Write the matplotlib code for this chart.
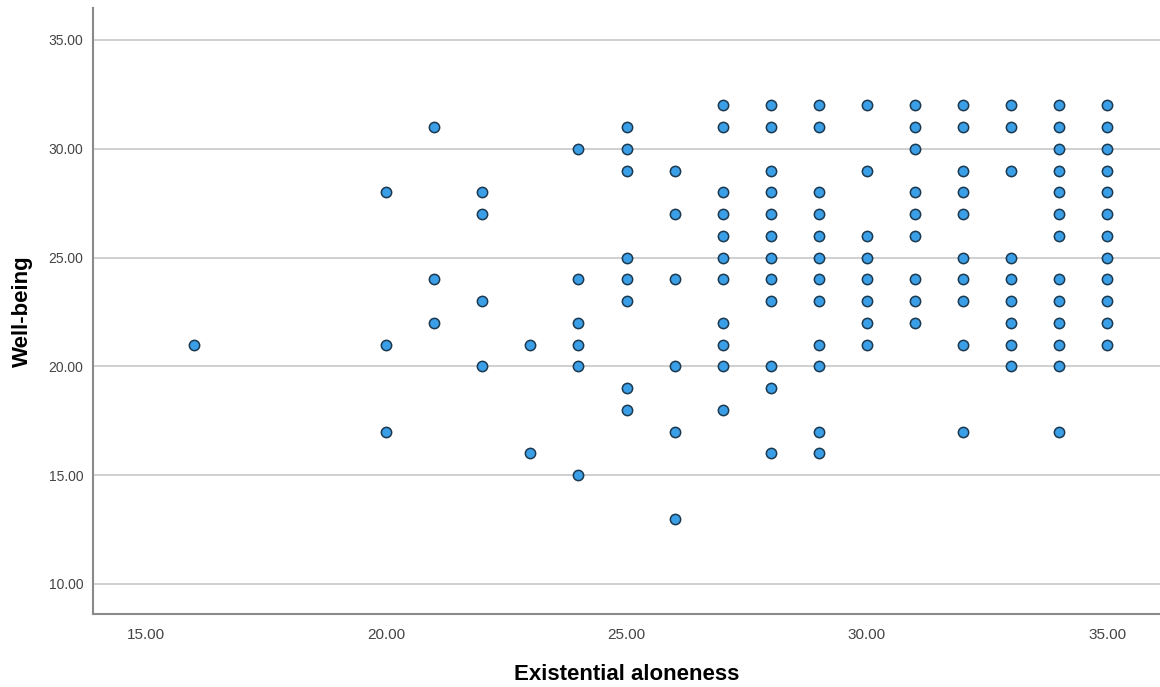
import matplotlib

matplotlib.use("Agg")
import matplotlib.pyplot as plt
from matplotlib import font_manager

# Well-being values observed at each Existential aloneness score
aloneness = [16, 20, 21, 22, 23, 24, 25, 26, 27, 28, 29, 30, 31, 32, 33, 34, 35]
wellbeing = [
    [21],
    [28, 21, 17],
    [31, 24, 22],
    [28, 27, 23, 20],
    [21, 16],
    [30, 24, 22, 21, 20, 15],
    [31, 30, 29, 25, 24, 23, 19, 18],
    [29, 27, 24, 20, 17, 13],
    [32, 31, 28, 27, 26, 25, 24, 22, 21, 20, 18],
    [32, 31, 29, 28, 27, 26, 25, 24, 23, 20, 19, 16],
    [32, 31, 28, 27, 26, 25, 24, 23, 21, 20, 17, 16],
    [32, 29, 26, 25, 24, 23, 22, 21],
    [32, 31, 30, 28, 27, 26, 24, 23, 22],
    [32, 31, 29, 28, 27, 25, 24, 23, 21, 17],
    [32, 31, 29, 25, 24, 23, 22, 21, 20],
    [32, 31, 30, 29, 28, 27, 26, 24, 23, 22, 21, 20, 17],
    [32, 31, 30, 29, 28, 27, 26, 25, 24, 23, 22, 21],
]
x_ticks = [15, 20, 25, 30, 35]
y_ticks = [10, 15, 20, 25, 30, 35]

xs = [x for x, ys in zip(aloneness, wellbeing) for _ in ys]
ys = [y for col in wellbeing for y in col]

installed = {f.name for f in font_manager.fontManager.ttflist}
narrow = "Liberation Sans Narrow" if "Liberation Sans Narrow" in installed else "Liberation Sans"
plt.rcParams["font.family"] = ["Liberation Sans", "DejaVu Sans"]

fig = plt.figure(figsize=(11.6, 6.87), dpi=100)
ax = fig.add_axes([0.0802, 0.1063, 0.9198, 0.8821])

ax.scatter(xs, ys, s=55, facecolor="#3a9fe6", edgecolor="#1d3950",
           linewidth=1.1, zorder=3)

ax.set_xlim(13.9, 36.1)
ax.set_ylim(8.62, 36.47)
ax.set_xticks(x_ticks)
ax.set_yticks(y_ticks)
ax.set_xticklabels([f"{t:.2f}" for t in x_ticks], fontfamily=narrow,
                   fontsize=11, color="#444444")
ax.set_yticklabels([f"{t:.2f}" for t in y_ticks], fontsize=10,
                   color="#444444")
ax.tick_params(axis="y", length=0, pad=7)
ax.tick_params(axis="x", length=0, pad=10)

ax.grid(axis="y", color="#c8c8c8", linewidth=1.2, zorder=0)
for side in ("top", "right"):
    ax.spines[side].set_visible(False)
for side in ("left", "bottom"):
    ax.spines[side].set_color("#8a8a8a")
    ax.spines[side].set_linewidth(1.5)

ax.set_xlabel("Existential aloneness", fontsize=16, fontweight="bold",
              labelpad=16)
ax.set_ylabel("Well-being", fontsize=16, fontweight="bold", labelpad=11)

fig.savefig("out.png", dpi=100)
plt.close(fig)
